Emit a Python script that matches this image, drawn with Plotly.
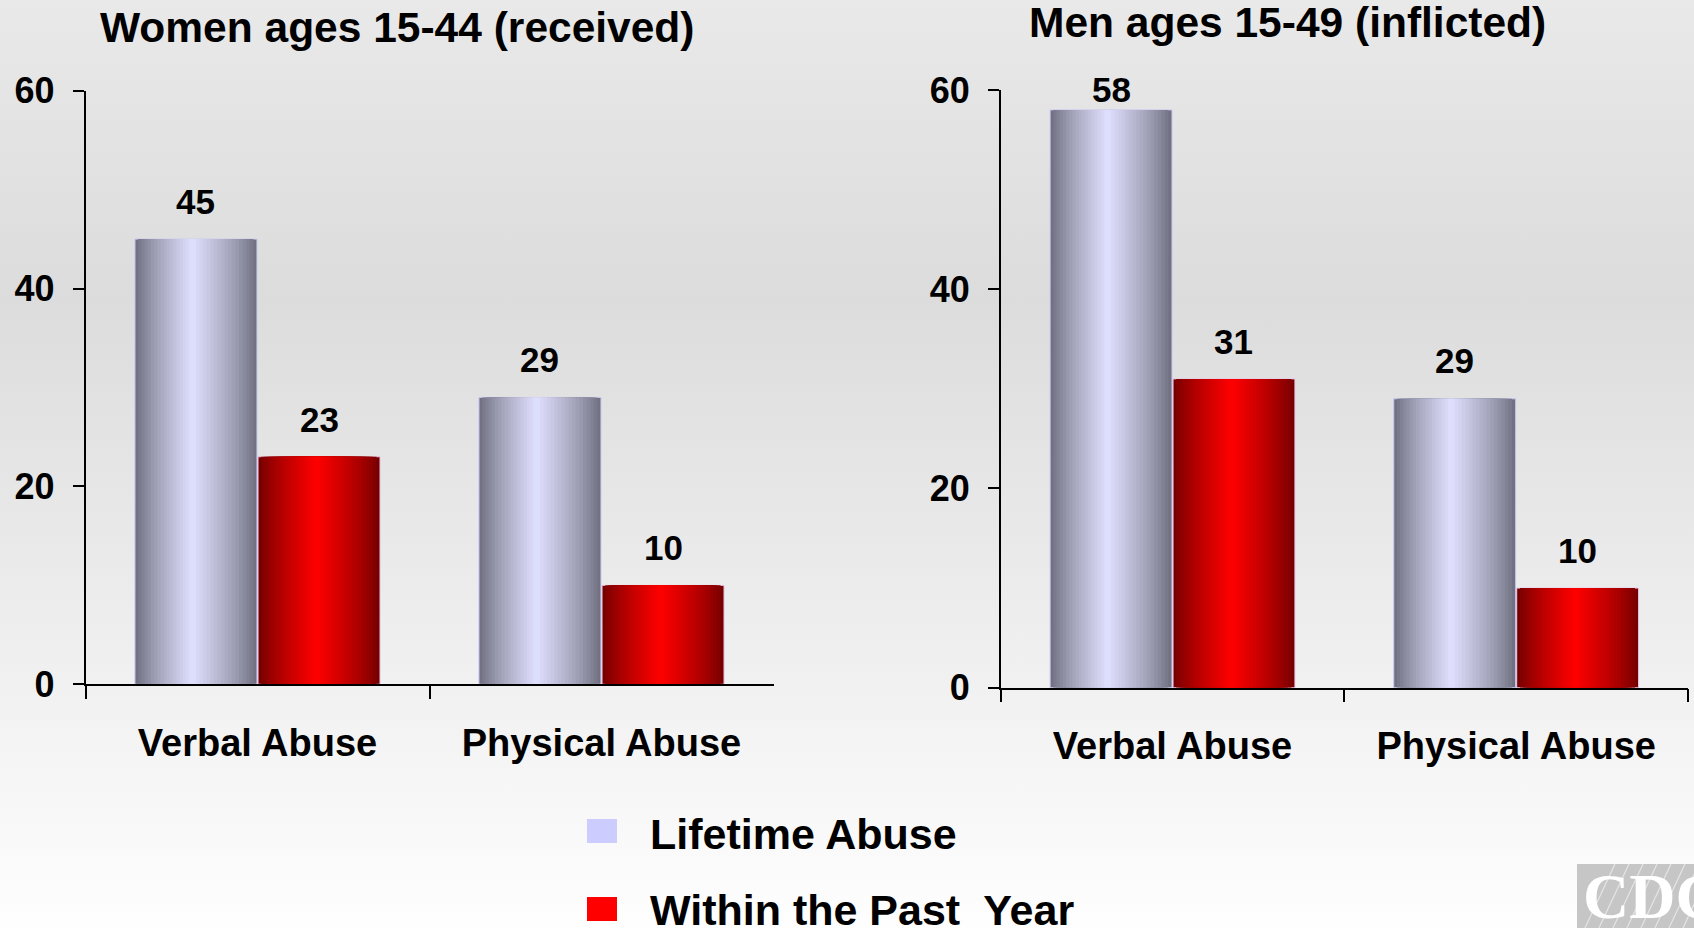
import base64
import plotly.graph_objects as go

# ---------------- data ----------------
categories = ["Verbal Abuse", "Physical Abuse"]
women_lifetime = [45, 29]
women_past_year = [23, 10]
men_lifetime = [58, 29]
men_past_year = [31, 10]
y_ticks = [0, 20, 40, 60]
panel_titles = ["Women ages 15-44 (received)", "Men ages 15-49 (inflicted)"]
series_names = ["Lifetime Abuse", "Within the Past\u00a0 Year"]

# ---------------- styling ----------------
W, H = 1694, 928
FONT = "Liberation Sans, Arial, Helvetica, sans-serif"
BAR_W = 0.3547          # width of one bar in category units
GAP = 0.003             # tiny gap between paired bars
N_LAYERS = 18
LABEL_OFFSET = 3.8      # data units above bar for value labels
YMAX = 60

LIFE_EDGE = (106, 106, 122)
LIFE_PEAK = (224, 224, 255)
RED_EDGE = (110, 0, 0)
RED_PEAK = (255, 0, 0)


def mix(c0, c1, t):
    return "rgb(%d,%d,%d)" % tuple(round(a + (b - a) * t) for a, b in zip(c0, c1))


fig = go.Figure()


def add_shaded_bars(values, left, right, peak_frac, edge, peak, xa, ya, name, outline):
    """Overlay narrowing bars so the fill looks like a shaded cylinder."""
    peak_pos = left + (right - left) * peak_frac
    for k in range(N_LAYERS):
        f = k / N_LAYERS
        lo = left + (peak_pos - left) * f
        hi = right - (right - peak_pos) * f
        t = ((k + 0.5) / N_LAYERS) ** 0.8
        fig.add_trace(go.Bar(
            x=categories, y=values, name=name,
            offset=lo, width=hi - lo,
            marker=dict(color=mix(edge, peak, t),
                        line=dict(width=1 if k == 0 else 0, color=outline)),
            xaxis=xa, yaxis=ya, showlegend=False,
            hoverinfo="x+y" if k == 0 else "skip",
        ))


panels = [
    (women_lifetime, women_past_year, "x", "y"),
    (men_lifetime, men_past_year, "x2", "y2"),
]

annotations = []
for life, past, xa, ya in panels:
    add_shaded_bars(life, -BAR_W - GAP / 2, -GAP / 2, 0.47, LIFE_EDGE, LIFE_PEAK,
                    xa, ya, series_names[0], "#c8c8f4")
    add_shaded_bars(past, GAP / 2, BAR_W + GAP / 2, 0.48, RED_EDGE, RED_PEAK,
                    xa, ya, series_names[1], "#e8c8e8")
    for i, (a, b) in enumerate(zip(life, past)):
        for v, xc in ((a, i - BAR_W / 2 - GAP / 2), (b, i + BAR_W / 2 + GAP / 2)):
            annotations.append(dict(
                x=xc, y=min(v + LABEL_OFFSET, YMAX), xref=xa, yref=ya,
                text=str(v), showarrow=False, yanchor="middle", xanchor="center",
                font=dict(family=FONT, size=35, color="black", weight="bold"),
            ))

# panel titles
annotations.append(dict(x=397 / W, y=1 - 28 / H, xref="paper", yref="paper",
                        text=panel_titles[0], showarrow=False,
                        xanchor="center", yanchor="middle",
                        font=dict(family=FONT, size=42.5, color="black", weight="bold")))
annotations.append(dict(x=1287 / W, y=1 - 23 / H, xref="paper", yref="paper",
                        text=panel_titles[1], showarrow=False,
                        xanchor="center", yanchor="middle",
                        font=dict(family=FONT, size=42.5, color="black", weight="bold")))

# custom legend
shapes = []
legend_colors = ["#ccccff", "#ff0000"]
legend_rows = [(819, 843, 834), (897, 921, 910)]
for (y0, y1, yc), col, name in zip(legend_rows, legend_colors, series_names):
    shapes.append(dict(type="rect", xref="paper", yref="paper",
                       x0=587 / W, x1=617 / W, y0=1 - y1 / H, y1=1 - y0 / H,
                       fillcolor=col, line=dict(width=0)))
    annotations.append(dict(x=648 / W, y=1 - yc / H, xref="paper", yref="paper",
                            text=name, showarrow=False, xanchor="left", yanchor="middle",
                            font=dict(family=FONT, size=43, color="black", weight="bold")))

# CDC logo block (bottom right)
shapes.append(dict(type="rect", xref="paper", yref="paper",
                   x0=1577 / W, x1=1.01, y0=-0.01, y1=1 - 864 / H,
                   fillcolor="#c6c6c6", line=dict(width=0)))
for xs in range(1585, 1700, 14):
    shapes.append(dict(type="line", xref="paper", yref="paper",
                       x0=xs / W, y0=0, x1=(xs + 30) / W, y1=1 - 864 / H,
                       line=dict(color="rgba(255,255,255,0.55)", width=1.2)))
annotations.append(dict(x=1581 / W, y=1 - 896 / H, xref="paper", yref="paper",
                        text="CDC", showarrow=False, xanchor="left", yanchor="middle",
                        font=dict(family="Liberation Serif, Times New Roman, serif",
                                  size=64, color="white", weight="bold")))

# background gradient
svg = ('<svg xmlns="http://www.w3.org/2000/svg" width="100" height="100" '
       'preserveAspectRatio="none"><defs><linearGradient id="g" x1="0" y1="0" x2="0" y2="1">'
       '<stop offset="0" stop-color="#e9e9e9"/><stop offset="0.32" stop-color="#dcdcdc"/>'
       '<stop offset="1" stop-color="#fefefe"/></linearGradient></defs>'
       '<rect width="100" height="100" fill="url(#g)"/></svg>')
bg_src = "data:image/svg+xml;base64," + base64.b64encode(svg.encode()).decode()

xaxis_common = dict(
    type="category", range=[-0.5, 1.5], showline=True, linecolor="black", linewidth=1.5,
    ticks="outside", tickson="boundaries", ticklen=13, tickwidth=1.5, tickcolor="black",
    showgrid=False, zeroline=False, ticklabelstandoff=24, automargin=False,
    tickfont=dict(family=FONT, size=38, color="black", weight="bold"),
)
yaxis_common = dict(
    range=[0, YMAX], tickvals=y_ticks, showline=True, linecolor="black", linewidth=1.5,
    ticks="outside", ticklen=11, tickwidth=1.5, tickcolor="black",
    showgrid=False, zeroline=False, ticklabelstandoff=11, automargin=False,
    tickfont=dict(family=FONT, size=36, color="black", weight="bold"),
)

fig.update_layout(
    width=W, height=H, margin=dict(l=0, r=0, t=0, b=0, pad=0, autoexpand=False),
    paper_bgcolor="white", plot_bgcolor="rgba(0,0,0,0)",
    barmode="overlay", showlegend=False,
    xaxis=dict(domain=[85.5 / W, 773.5 / W], anchor="y", **xaxis_common),
    yaxis=dict(domain=[1 - 684.3 / H, 1 - 90.7 / H], anchor="x", **yaxis_common),
    xaxis2=dict(domain=[1000.7 / W, 1688 / W], anchor="y2", **xaxis_common),
    yaxis2=dict(domain=[1 - 687.7 / H, 1 - 90 / H], anchor="x2", **yaxis_common),
    annotations=annotations, shapes=shapes,
    images=[dict(source=bg_src, xref="paper", yref="paper", x=0, y=1,
                 sizex=1, sizey=1, xanchor="left", yanchor="top",
                 sizing="stretch", layer="below")],
)

fig.write_html("out.html",
               config={"displayModeBar": False},
               post_script="document.body.style.margin='0';"
                           "document.body.style.overflow='hidden';")
